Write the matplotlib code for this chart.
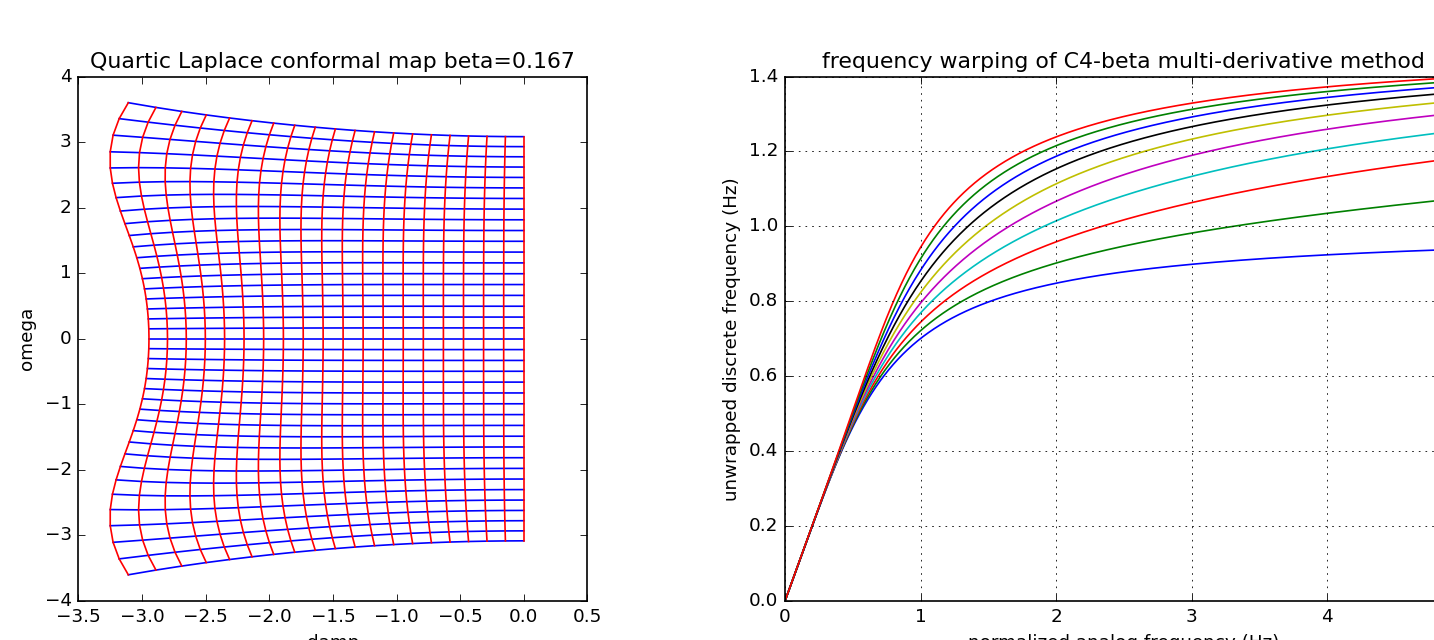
import numpy as np
import matplotlib
matplotlib.use("Agg")
import matplotlib.pyplot as plt

plt.style.use('classic')
plt.rcParams.update({
    'font.size': 11,
    'axes.titlesize': 13.2,
    'axes.labelsize': 11,
    'xtick.labelsize': 11,
    'ytick.labelsize': 11,
})

# ---- data ----------------------------------------------------------------
# left panel: analog s-plane grid pushed through the C4-beta map (beta from title)
beta_map = 0.167
damp_grid = np.linspace(-3.0, 0.0, 20)        # analog damping of the red lines
omega_grid = np.linspace(-np.pi, np.pi, 39)   # analog frequency of the blue lines

# right panel: one curve per beta value
betas = [0.0, 0.0278, 0.0556, 0.0833, 0.1111, 0.1389, 0.1667, 0.1944, 0.2222, 0.25]
curve_colors = ['b', 'g', 'r', 'c', 'm', 'y', 'k', 'b', 'g', 'r']
freq_hz = np.linspace(0.0, 5.0, 1001)         # normalized analog frequency samples

left_title = "Quartic Laplace conformal map beta=0.167"
right_title = "frequency warping of C4-beta multi-derivative method"


def char_poly(s, beta):
    """Numerator polynomial of the C4-beta method, z = P(s)/P(-s)."""
    return 1 + s / 2 + (1 + beta) / 12 * s**2 + beta / 24 * s**3


# ---- figure --------------------------------------------------------------
fig = plt.figure(figsize=(1434 / 120, 640 / 120), dpi=120, facecolor='white')

ax1 = fig.add_axes([78.4 / 1434, 1 - 601 / 640, (587.4 - 78.4) / 1434, (601 - 76.5) / 640])
S = damp_grid[:, None] + 1j * omega_grid[None, :]
Z = char_poly(S, beta_map) / char_poly(-S, beta_map)
damp_d = np.log(np.abs(Z))
ph = np.angle(Z)
mid = len(omega_grid) // 2
up = np.unwrap(ph[:, mid:], axis=1)
dn = np.unwrap(ph[:, mid::-1], axis=1)[:, ::-1]
omega_d = np.concatenate([dn[:, :-1], up], axis=1)

for j in range(len(omega_grid)):
    ax1.plot(damp_d[:, j], omega_d[:, j], color='b', lw=1.0)
for i in range(len(damp_grid)):
    ax1.plot(damp_d[i], omega_d[i], color='r', lw=1.0)
ax1.set_xlim(-3.5, 0.5)
ax1.set_ylim(-4, 4)
ax1.set_xticks(np.arange(-3.5, 0.51, 0.5))
ax1.set_yticks(np.arange(-4, 5, 1))
ax1.set_xlabel("damp")
ax1.set_ylabel("omega")
ax1.set_title(left_title)

ax2 = fig.add_axes([785 / 1434, 1 - 601 / 640, 677.5 / 1434, (601 - 76.5) / 640])
w = 2 * np.pi * freq_hz
for beta, c in zip(betas, curve_colors):
    disc = np.unwrap(np.angle(char_poly(1j * w, beta))) / np.pi
    ax2.plot(freq_hz, disc, color=c, lw=1.0)
ax2.set_xlim(0, 5)
ax2.set_ylim(0, 1.4)
ax2.set_xticks(np.arange(0, 6, 1))
ax2.set_yticks(np.arange(0, 1.41, 0.2))
ax2.grid(True)
ax2.set_xlabel("normalized analog frequency (Hz)")
ax2.set_ylabel("unwrapped discrete frequency (Hz)")
ax2.set_title(right_title)

fig.savefig("out.png", dpi=120, facecolor='white')
